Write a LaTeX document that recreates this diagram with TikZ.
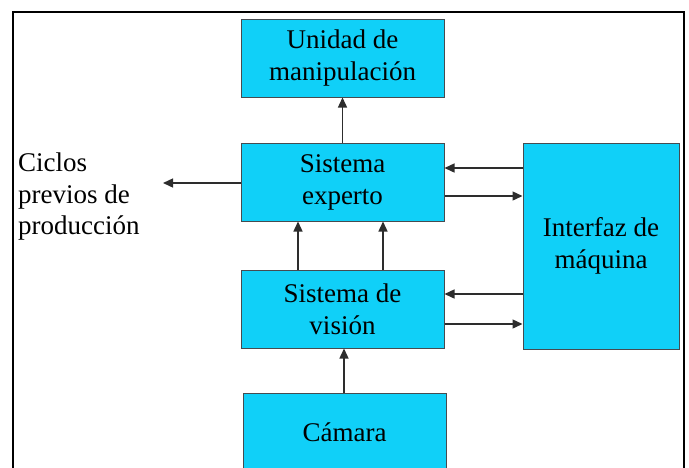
\documentclass[tikz,border=0pt]{standalone}
\usepackage{fontspec}
\setmainfont{Liberation Serif}
\usetikzlibrary{arrows.meta,calc}
\definecolor{boxcyan}{RGB}{16,208,248}
\definecolor{edgegray}{RGB}{70,75,80}
\definecolor{arrgray}{RGB}{45,45,45}
\begin{document}
\begin{tikzpicture}[x=1pt,y=-1pt,
  blk/.style={draw=edgegray,line width=1pt,fill=boxcyan,minimum width=203pt,minimum height=78pt,inner sep=0pt,align=center,font=\fontsize{27}{32}\selectfont},
  arr/.style={draw=arrgray,line width=1.4pt,-{Triangle[length=10pt,width=9pt]}},
  lbl/.style={inner sep=0pt,align=left,font=\fontsize{27}{31.5}\selectfont}]
\useasboundingbox (0,0) rectangle (689,467);
\clip (0,0) rectangle (689,467);
\draw[line width=1.2pt] (13,12) rectangle (684,520);
\node[blk] (unidad) at (342.5,58) {Unidad de\\manipulación};
\node[blk] (exp) at (342.5,182) {\rule{0pt}{3pt}Sistema\\experto};
\node[blk,minimum width=156pt,minimum height=206pt] (intf) at (601,246) {\rule{0pt}{6pt}Interfaz de\\máquina};
\node[blk] (vis) at (342.5,309) {Sistema de\\visión};
\node[blk] (cam) at (344.5,432) {Cámara};
\node[lbl,anchor=north west] (ciclos) at (18,153) {Ciclos\\previos de\\producción};
\coordinate (cend) at (163,183);
\draw[arr] (exp) -- (unidad);
\draw[arr] (exp.west |- cend) -- (cend);
\draw[arr] (intf.west |- 0,168) -- (exp.east |- 0,168);
\draw[arr] (exp.east |- 0,196) -- (intf.west |- 0,196);
\draw[arr] (intf.west |- 0,294) -- (vis.east |- 0,294);
\draw[arr] (vis.east |- 0,324) -- (intf.west |- 0,324);
\draw[arr] (vis.north -| 298,0) -- (exp.south -| 298,0);
\draw[arr] (vis.north -| 383,0) -- (exp.south -| 383,0);
\draw[arr] (cam.north -| 344,0) -- (vis.south -| 344,0);
\end{tikzpicture}
\end{document}
